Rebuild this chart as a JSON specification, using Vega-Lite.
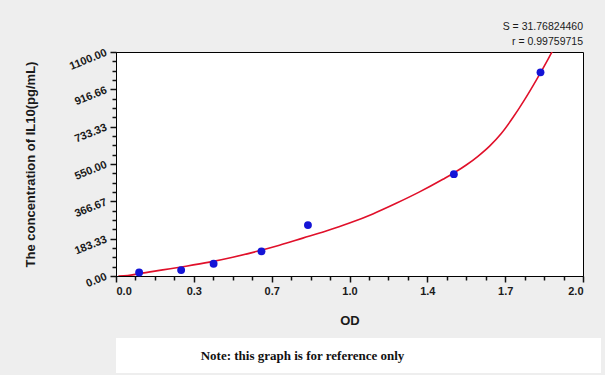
{
  "$schema": "https://vega.github.io/schema/vega-lite/v6.json",
  "background": "#eeeeee",
  "padding": {"left": 23, "top": 21, "right": 4, "bottom": 3},
  "spacing": 10,
  "config": {
    "font": "Liberation Sans",
    "view": {"stroke": null},
    "axis": {
      "labelFont": "Liberation Sans",
      "labelFontWeight": "bold",
      "labelFontSize": 11,
      "labelColor": "#1a1a1a",
      "titleFont": "Liberation Sans",
      "titleFontWeight": "bold",
      "titleFontSize": 13,
      "titleColor": "#1a1a1a",
      "domainColor": "#000000",
      "grid": false
    }
  },
  "datasets": {
    "curve": [
      {"od": 0.01, "conc": 0},
      {"od": 0.05, "conc": 2},
      {"od": 0.1, "conc": 12},
      {"od": 0.2, "conc": 30},
      {"od": 0.3, "conc": 48},
      {"od": 0.4, "conc": 68},
      {"od": 0.5, "conc": 92},
      {"od": 0.6, "conc": 120},
      {"od": 0.7, "conc": 151},
      {"od": 0.8, "conc": 186},
      {"od": 0.9, "conc": 221},
      {"od": 1.0, "conc": 260},
      {"od": 1.1, "conc": 305},
      {"od": 1.2, "conc": 357},
      {"od": 1.3, "conc": 413},
      {"od": 1.4, "conc": 475},
      {"od": 1.45, "conc": 508},
      {"od": 1.5, "conc": 545},
      {"od": 1.55, "conc": 588},
      {"od": 1.6, "conc": 638},
      {"od": 1.65, "conc": 700},
      {"od": 1.7, "conc": 778},
      {"od": 1.75, "conc": 866},
      {"od": 1.8, "conc": 962},
      {"od": 1.85, "conc": 1064},
      {"od": 1.88, "conc": 1128}
    ],
    "points": [
      {"od": 0.099, "conc": 17},
      {"od": 0.279, "conc": 29},
      {"od": 0.418, "conc": 60},
      {"od": 0.623, "conc": 121},
      {"od": 0.822, "conc": 250},
      {"od": 1.447, "conc": 500},
      {"od": 1.818, "conc": 1000}
    ],
    "note": [{"text": "Note: this graph is for reference only"}]
  },
  "vconcat": [
    {
      "width": 467,
      "height": 224,
      "view": {"fill": "white", "stroke": "#000000", "strokeWidth": 1},
      "title": {
        "text": ["S = 31.76824460", "r = 0.99759715"],
        "anchor": "end",
        "align": "right",
        "frame": "group",
        "font": "Liberation Sans",
        "fontSize": 10.5,
        "fontWeight": "normal",
        "color": "#1a1a1a",
        "lineHeight": 15,
        "offset": -1
      },
      "layer": [
        {
          "data": {"name": "curve"},
          "mark": {"type": "line", "color": "#e0102a", "strokeWidth": 1.6, "interpolate": "monotone", "clip": true},
          "encoding": {
            "x": {
              "field": "od",
              "type": "quantitative",
              "scale": {"domain": [0, 2], "nice": false, "zero": false},
              "axis": {
                "orient": "bottom",
                "title": "OD",
                "values": [0, 0.33333, 0.66667, 1, 1.33333, 1.66667, 2],
                "labelExpr": "datum.value > 1.3 && datum.value < 1.4 ? '1.4' : format(datum.value, '.1f')",
                "ticks": true,
                "tickColor": "#111111",
                "tickWidth": 1.5,
                "tickSize": 6,
                "labelPadding": 3,
                "titlePadding": 18,
                "domain": true
              }
            },
            "y": {
              "field": "conc",
              "type": "quantitative",
              "scale": {"domain": [0, 1100], "nice": false, "zero": false},
              "axis": {
                "orient": "left",
                "title": "The concentration of IL10(pg/mL)",
                "values": [0, 183.33, 366.67, 550, 733.33, 916.66, 1100],
                "format": ".2f",
                "labelAngle": -22,
                "labelAlign": "right",
                "labelBaseline": "middle",
                "ticks": true,
                "tickColor": "#111111",
                "tickWidth": 1.5,
                "tickSize": 6,
                "labelPadding": 4,
                "titlePadding": 30,
                "domain": true
              }
            }
          }
        },
        {
          "data": {"name": "points"},
          "mark": {"type": "circle", "size": 62, "color": "#1414d6", "opacity": 1},
          "encoding": {
            "x": {
              "field": "od",
              "type": "quantitative",
              "axis": {
                "orient": "bottom",
                "title": null,
                "labels": false,
                "domain": false,
                "ticks": true,
                "tickColor": "#111111",
                "tickWidth": 1.5,
                "tickSize": 4,
                "values": [0.08333, 0.16667, 0.25, 0.41667, 0.5, 0.58333, 0.75, 0.83333, 0.91667, 1.08333, 1.16667, 1.25, 1.41667, 1.5, 1.58333, 1.75, 1.83333, 1.91667]
              }
            },
            "y": {
              "field": "conc",
              "type": "quantitative",
              "axis": {
                "orient": "left",
                "title": null,
                "labels": false,
                "domain": false,
                "ticks": true,
                "tickColor": "#111111",
                "tickWidth": 1.5,
                "tickSize": 4,
                "values": [45.83, 91.67, 137.5, 229.17, 275, 320.83, 412.5, 458.33, 504.17, 595.83, 641.67, 687.5, 779.17, 825, 870.83, 962.5, 1008.33, 1054.17]
              }
            }
          }
        }
      ],
      "resolve": {"axis": {"x": "independent", "y": "independent"}}
    },
    {
      "width": 485,
      "height": 35,
      "view": {"fill": "white", "stroke": null},
      "data": {"name": "note"},
      "mark": {"type": "text", "font": "Liberation Serif", "fontSize": 13, "fontWeight": "bold", "color": "#111111", "dx": -56},
      "encoding": {"text": {"field": "text"}}
    }
  ]
}
